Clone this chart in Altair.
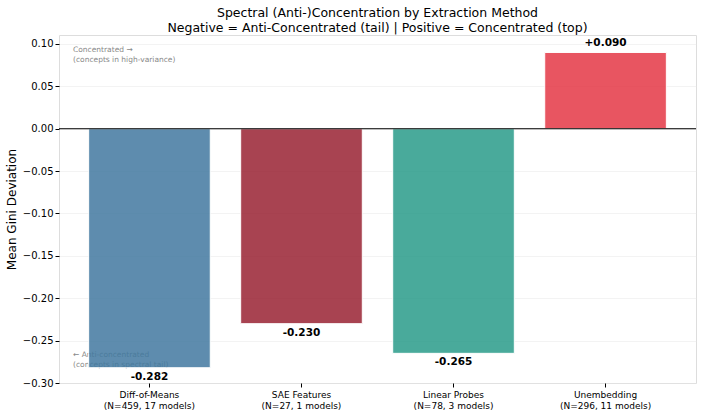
import altair as alt
import pandas as pd

# Extraction methods and their mean Gini deviation
methods = ["Diff-of-Means", "SAE Features", "Linear Probes", "Unembedding"]
counts = ["(N=459, 17 models)", "(N=27, 1 models)", "(N=78, 3 models)", "(N=296, 11 models)"]
gini_dev = [-0.282, -0.230, -0.265, 0.090]
colors = ["#4279A0", "#992333", "#2A9C8A", "#E43846"]

labels = [f"{m}|{c}" for m, c in zip(methods, counts)]
df = pd.DataFrame({
    "method": labels,
    "value": gini_dev,
    "color": colors,
    "text": [f"{v:+.3f}" if v > 0 else f"{v:.3f}" for v in gini_dev],
    "sign": ["pos" if v > 0 else "neg" for v in gini_dev],
})

FONT = "DejaVu Sans"
W, H = 637, 348

x_enc = alt.X(
    "method:N", sort=labels, title=None,
    scale=alt.Scale(paddingInner=0.2, paddingOuter=0.195),
    axis=alt.Axis(labelExpr="split(datum.label, '|')", labelAngle=0,
                  labelFontSize=9, labelColor="black", labelFont=FONT,
                  labelLineHeight=11, tickSize=4, tickColor="black",
                  domain=False, labelPadding=3),
)
y_scale = alt.Scale(domain=[-0.30, 0.1106], nice=False, zero=False)
y_enc = alt.Y(
    "value:Q", scale=y_scale, title="Mean Gini Deviation",
    axis=alt.Axis(values=[-0.30, -0.25, -0.20, -0.15, -0.10, -0.05, 0.0, 0.05, 0.10],
                  labelExpr="replace(format(datum.value, '.2f'), '-', '\u2212')",
                  labelFontSize=10, labelColor="black", labelFont=FONT,
                  titleFontSize=12, titleFont=FONT, titleFontWeight="normal",
                  titleColor="black", titlePadding=4,
                  tickSize=4, tickColor="black", domain=False,
                  grid=True, gridColor="#e6e6e6", gridOpacity=0.6, gridWidth=0.8),
)

# Side notes explaining the sign convention
notes = pd.DataFrame({
    "line1": ["Concentrated \u2192", "\u2190 Anti-concentrated"],
    "line2": ["(concepts in high-variance)", "(concepts in spectral tail)"],
})
note_style = dict(align="left", baseline="top", fontSize=7.5, font=FONT,
                  color="#888888", lineHeight=9.5)
note_top = alt.Chart(notes.iloc[[0]]).mark_text(**note_style).encode(
    x=alt.value(14), y=alt.value(11), text=alt.Text("lines:N")
).transform_calculate(lines="[datum.line1, datum.line2]")
note_bot = alt.Chart(notes.iloc[[1]]).mark_text(**note_style).encode(
    x=alt.value(14), y=alt.value(316), text=alt.Text("lines:N")
).transform_calculate(lines="[datum.line1, datum.line2]")

bars = alt.Chart(df).mark_bar(opacity=0.85, stroke="white", strokeWidth=1).encode(
    x=x_enc, y=y_enc, y2=alt.datum(0),
    color=alt.Color("color:N", scale=None),
)

zero = alt.Chart(pd.DataFrame({"z": [0.0]})).mark_rule(color="black", strokeWidth=1).encode(
    y=alt.Y("z:Q", scale=y_scale)
)

base_text = alt.Chart(df).encode(x=alt.X("method:N", sort=labels),
                                 y=alt.Y("value:Q", scale=y_scale), text="text:N")
lab_neg = base_text.transform_filter("datum.sign == 'neg'").mark_text(
    baseline="top", dy=4, fontSize=10.5, fontWeight="bold", font=FONT, color="black")
lab_pos = base_text.transform_filter("datum.sign == 'pos'").mark_text(
    baseline="bottom", dy=-4, fontSize=10.5, fontWeight="bold", font=FONT, color="black")

chart = alt.layer(note_top, note_bot, bars, zero, lab_neg, lab_pos).properties(
    width=W, height=H,
    autosize="none",
    padding={"left": 59, "top": 35, "right": 7, "bottom": 33},
    title=alt.TitleParams(
        text=["Spectral (Anti-)Concentration by Extraction Method",
              "Negative = Anti-Concentrated (tail) | Positive = Concentrated (top)"],
        fontSize=12.5, font=FONT, fontWeight="normal", color="black",
        anchor="middle", offset=1, lineHeight=15,
    ),
).configure_view(stroke="#222222", strokeWidth=1).configure(background="white")

chart.save("out.html", embed_options={"renderer": "svg", "actions": False})
